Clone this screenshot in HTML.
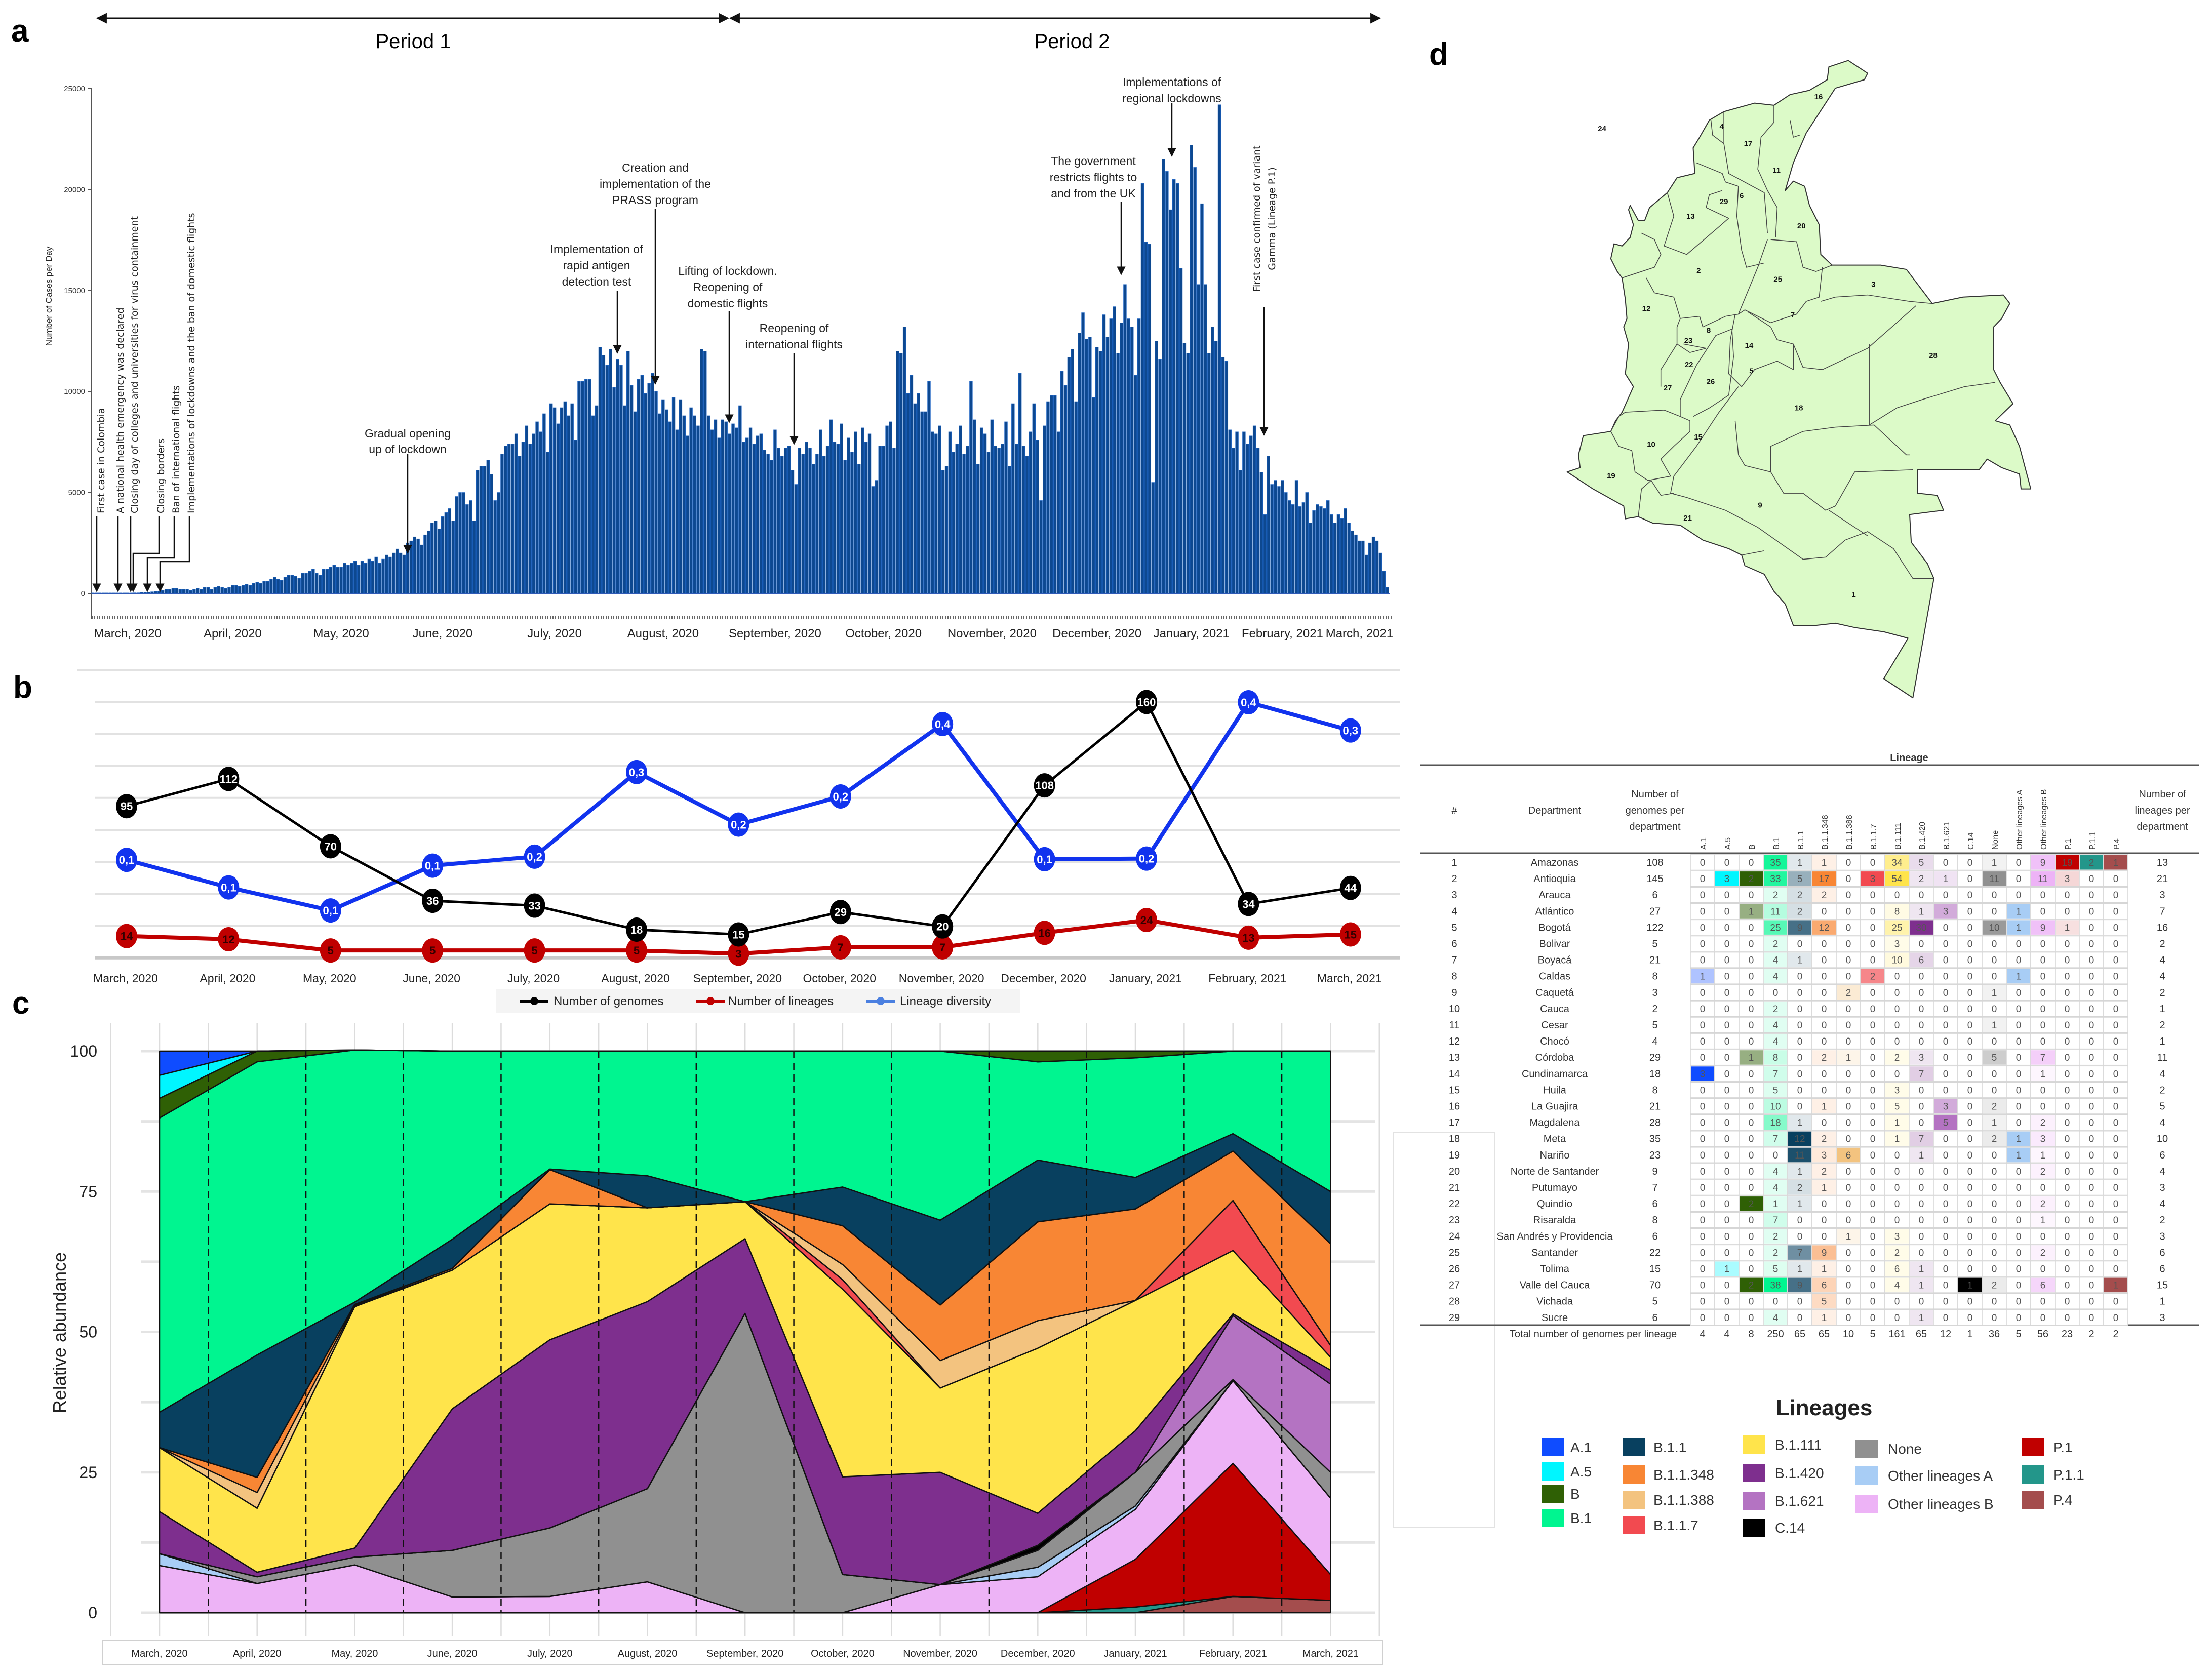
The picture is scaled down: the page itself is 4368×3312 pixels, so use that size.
<!DOCTYPE html>
<html><head><meta charset="utf-8">
<style>
html,body{margin:0;padding:0;background:#fff}
svg{display:block}
text{font-family:"Liberation Sans",sans-serif}
.ann{font-size:23px;fill:#222;text-anchor:middle}
.rot{font-family:"DejaVu Sans",sans-serif;font-size:19px;fill:#222}
</style></head>
<body>
<svg id="fig" width="4368" height="3312" viewBox="0 0 4368 3312" xmlns="http://www.w3.org/2000/svg">
<defs>
<marker id="ah" viewBox="0 0 10 10" refX="9" refY="5" markerWidth="7" markerHeight="7" orient="auto-start-reverse"><path d="M0,0 L10,5 L0,10 z" fill="#111"/></marker>
</defs>
<rect x="0" y="0" width="4368" height="3312" fill="#fff"/>

<!-- Panel letters -->
<text x="22" y="82" font-size="62" font-weight="bold">a</text>
<text x="26" y="1378" font-size="62" font-weight="bold">b</text>
<text x="24" y="2002" font-size="62" font-weight="bold">c</text>
<text x="2822" y="128" font-size="62" font-weight="bold">d</text>

<!-- Period arrows -->
<g>
<line x1="192" y1="36" x2="1438" y2="36" stroke="#111" stroke-width="3" marker-start="url(#ah)" marker-end="url(#ah)"/>
<line x1="1442" y1="36" x2="2725" y2="36" stroke="#111" stroke-width="3" marker-start="url(#ah)" marker-end="url(#ah)"/>
<text x="816" y="95" font-size="40" text-anchor="middle">Period 1</text>
<text x="2117" y="95" font-size="40" text-anchor="middle">Period 2</text>
</g>

<g id="panelA">
<line x1="181" y1="173" x2="181" y2="1222" stroke="#555" stroke-width="2"/>
<line x1="181" y1="1220" x2="2750" y2="1220" stroke="#666" stroke-width="6" stroke-dasharray="2,3"/>
<line x1="181" y1="1172" x2="2745" y2="1172" stroke="#3a55b0" stroke-width="2"/>
<text transform="translate(102,585) rotate(-90)" font-size="17" text-anchor="middle" fill="#222">Number of Cases per Day</text>
</g>

<!-- panel a annotations -->
<g id="annA">
<text class="rot" transform="translate(206,1014) rotate(-90)">First case in Colombia</text>
<text class="rot" transform="translate(244,1014) rotate(-90)">A national health emergency was declared</text>
<text class="rot" transform="translate(272,1014) rotate(-90)">Closing day of colleges and universities for virus containment</text>
<text class="rot" transform="translate(324,1014) rotate(-90)">Closing borders</text>
<text class="rot" transform="translate(354,1014) rotate(-90)">Ban of international flights</text>
<text class="rot" transform="translate(384,1014) rotate(-90)">Implementations of lockdowns and the ban of domestic flights</text>
<g stroke="#111" stroke-width="2.5" fill="none">
<line x1="191" y1="1020" x2="191" y2="1168" marker-end="url(#ah)"/>
<line x1="233" y1="1020" x2="233" y2="1168" marker-end="url(#ah)"/>
<line x1="258" y1="1020" x2="258" y2="1168" marker-end="url(#ah)"/>
<polyline points="314,1020 314,1093 263,1093 263,1168" marker-end="url(#ah)"/>
<polyline points="344,1020 344,1102 291,1102 291,1168" marker-end="url(#ah)"/>
<polyline points="374,1020 374,1109 316,1109 316,1168" marker-end="url(#ah)"/>
<line x1="805" y1="897" x2="805" y2="1092" marker-end="url(#ah)"/>
<line x1="1219" y1="575" x2="1219" y2="697" marker-end="url(#ah)"/>
<line x1="1294" y1="413" x2="1294" y2="758" marker-end="url(#ah)"/>
<line x1="1440" y1="614" x2="1440" y2="834" marker-end="url(#ah)"/>
<line x1="1568" y1="697" x2="1568" y2="877" marker-end="url(#ah)"/>
<line x1="2214" y1="398" x2="2214" y2="542" marker-end="url(#ah)"/>
<line x1="2314" y1="204" x2="2314" y2="308" marker-end="url(#ah)"/>
<line x1="2496" y1="607" x2="2496" y2="859" marker-end="url(#ah)"/>
</g>
<text class="ann" x="805" y="864"><tspan x="805">Gradual opening</tspan><tspan x="805" dy="31">up of lockdown</tspan></text>
<text class="ann" x="1178" y="500"><tspan x="1178">Implementation of</tspan><tspan x="1178" dy="32">rapid antigen</tspan><tspan x="1178" dy="32">detection test</tspan></text>
<text class="ann" x="1294" y="339"><tspan x="1294">Creation and</tspan><tspan x="1294" dy="32">implementation of the</tspan><tspan x="1294" dy="32">PRASS program</tspan></text>
<text class="ann" x="1437" y="543"><tspan x="1437">Lifting of lockdown.</tspan><tspan x="1437" dy="32">Reopening of</tspan><tspan x="1437" dy="32">domestic flights</tspan></text>
<text class="ann" x="1568" y="656"><tspan x="1568">Reopening of</tspan><tspan x="1568" dy="32">international flights</tspan></text>
<text class="ann" x="2159" y="326"><tspan x="2159">The government</tspan><tspan x="2159" dy="32">restricts flights to</tspan><tspan x="2159" dy="32">and from the UK</tspan></text>
<text class="ann" x="2314" y="170"><tspan x="2314">Implementations of</tspan><tspan x="2314" dy="32">regional lockdowns</tspan></text>
<text class="rot" transform="translate(2488,432) rotate(-90)" text-anchor="middle" font-size="21"><tspan x="0">First case confirmed of variant</tspan><tspan x="0" dy="30">Gamma (Lineage P.1)</tspan></text>
</g>

<g id="panelB"></g>
<g id="panelC"></g>
<g id="legendC"></g>
<g id="mapD"></g>
<g id="tableD"></g>
</svg>

<script>
const NS = "http://www.w3.org/2000/svg";
function mk(tag, attrs, parent) {
  const el = document.createElementNS(NS, tag);
  for (const k in attrs) el.setAttribute(k, attrs[k]);
  parent.appendChild(el);
  return el;
}

/* ================= PANEL A: daily cases (thousands) ================= */
const casesDaily = [
0,0,0,0,0,0,0,0,0,0, 0.02,0.02,0.03,0.03,0.05,0.05,0.06,0.08,0.1,0.1,
0.15,0.2,0.2,0.25,0.25,0.2,0.2,0.2,0.15,0.2, 0.25,0.2,0.3,0.3,0.2,0.3,0.35,0.3,0.25,0.3,
0.4,0.4,0.35,0.4,0.45,0.4,0.5,0.55,0.5,0.6,
0.6,0.7,0.8,0.7,0.65,0.8,0.9,0.9,0.85,0.75, 1.0,1.0,1.1,1.2,1.0,0.9,1.2,1.2,1.3,1.4,
1.3,1.3,1.5,1.4,1.5,1.6,1.4,1.6,1.5,1.7, 1.6,1.8,1.5,1.7,1.9,1.8,2.0,2.2,2.0,1.9,
2.5,2.6,2.8,2.7,2.4,2.9,3.1,3.5,3.6,3.2,
3.8,4.0,4.2,3.6,4.8,5.0,5.0,4.4,4.6,3.6,
6.1,6.3,6.3,6.6,5.9,4.6,5.0,6.9,7.3,7.4,
7.4,7.9,6.8,7.5,8.3,7.4,7.9,8.5,8.0,8.9,
7.0,9.4,9.2,8.4,9.2,9.5,8.8,9.4,7.6,10.5,
10.5,10.6,10.6,8.8,9.3,12.2,11.8,11.3,12.1,10.2,
11.6,11.3,9.3,12.0,10.3,9.0,10.6,10.8,9.9,10.4,
10.9,10.0,8.9,9.6,9.1,8.5,9.7,8.1,9.6,8.8,
7.8,9.2,8.8,8.3,12.1,12.0,8.8,8.1,8.6,7.7,
8.6,8.5,7.9,8.4,8.2,9.3,7.5,7.7,8.2,7.4,
7.8,7.9,7.1,6.9,6.6,8.1,7.2,6.8,7.2,7.3,
6.1,5.4,7.2,6.9,7.5,7.2,6.4,6.9,8.1,6.8,
7.3,8.6,7.5,7.4,8.4,6.6,7.7,7.0,8.0,6.4,
8.2,7.5,7.9,5.3,5.6,7.3,7.3,8.3,8.5,7.2,
12.0,11.9,13.2,9.9,10.8,9.4,9.9,9.0,9.0,10.5,
8.0,7.9,8.3,6.1,6.3,8.0,7.0,7.4,8.3,6.9,
7.3,10.5,8.6,6.4,8.2,7.9,7.0,8.6,7.3,7.2,
7.4,8.5,6.3,9.4,7.4,10.9,7.3,6.8,8.0,9.4,
7.6,4.6,8.3,9.5,9.8,9.8,8.0,11.0,10.3,11.7,
12.1,9.5,12.9,13.9,12.6,12.7,9.7,12.2,12.0,13.8,
12.7,13.6,14.2,11.9,13.4,15.3,13.6,13.2,10.8,13.6,
20.3,17.4,17.3,5.5,12.5,11.6,21.5,20.9,19.0,20.5,
20.3,16.1,12.4,11.9,22.2,21.1,15.3,19.3,15.3,11.9,
13.2,12.5,24.2,11.7,11.5,8.1,7.2,8.0,6.1,8.0,
7.4,7.8,8.3,7.2,6.0,3.9,6.8,5.4,5.6,5.3,
5.6,5.0,4.6,4.4,5.6,4.3,4.5,5.0,3.5,4.1,
4.4,4.3,4.2,4.6,3.9,3.5,3.9,3.7,4.2,3.5,
3.1,2.9,2.6,2.6,1.9,2.5,2.8,2.6,2.0,1.1,
0.3
];
const yTicksA = [0, 5000, 10000, 15000, 20000, 25000];
const monthLabelsA = ["March, 2020","April, 2020","May, 2020","June, 2020","July, 2020","August, 2020","September, 2020","October, 2020","November, 2020","December, 2020","January, 2021","February, 2021","March, 2021"];
const monthLabelDayA = [10, 40, 71, 100, 132, 163, 195, 226, 257, 287, 314, 340, 362];

(function(){
  const g = document.getElementById('panelA');
  const xA = d => 183 + d * 6.91;
  const yA = v => 1172 - v * 1000 * (997 / 25000);
  yTicksA.forEach(t => {
    const y = yA(t / 1000);
    const tl = mk('text', {x: 168, y: y + 5, 'font-size': 15, 'text-anchor': 'end', fill: '#333'}, g);
    
    
    tl.textContent = String(t);
    const tk = mk('line', {x1: 174, x2: 181, y1: y, y2: y, stroke: '#555', 'stroke-width': 2}, g);
    
    
  });
  casesDaily.forEach((v, i) => {
    const h = Math.max(1, 1172 - yA(v));
    const b = mk('rect', {x: xA(i) - 2.8, y: 1172 - h, width: 5.6, height: h, fill: '#0d4890', stroke: '#1c62c0', 'stroke-width': 0.8}, g);
    
    
  });
  monthLabelsA.forEach((m, i) => {
    const t = mk('text', {x: xA(monthLabelDayA[i]), y: 1259, 'font-size': 24, 'text-anchor': 'middle', fill: '#222'}, g);
    
    
    t.textContent = m;
  });
})();

/* ================= PANEL B ================= */
const monthsB = ["March, 2020","April, 2020","May, 2020","June, 2020","July, 2020","August, 2020","September, 2020","October, 2020","November, 2020","December, 2020","January, 2021","February, 2021","March, 2021"];
const genomesB = [95, 112, 70, 36, 33, 18, 15, 29, 20, 108, 160, 34, 44];
const lineagesB = [14, 12, 5, 5, 5, 5, 3, 7, 7, 16, 24, 13, 15];
const diversityB = [0.154, 0.111, 0.075, 0.145, 0.159, 0.291, 0.209, 0.253, 0.366, 0.155, 0.156, 0.4, 0.356];
const diversityLabelsB = ["0,1","0,1","0,1","0,1","0,2","0,3","0,2","0,2","0,4","0,1","0,2","0,4","0,3"];

(function(){
  const g = document.getElementById('panelB');
  const xB = i => 250 + i * 201.4;
  const yB = v => 1893 - v * 3.166;
  const yD = v => 1893 - v * 1265;
  for (let k = 0; k < 10; k++) {
    const y = 1323 + k * 63.2;
    const gl = mk('line', {x1: k === 0 ? 152 : 188, x2: 2764, y1: y, y2: y, stroke: k === 9 ? '#c8c8c8' : '#e2e2e2', 'stroke-width': k === 9 ? 6 : 4}, g);
    
    
  }
  function series(vals, yf, color, width, labels, txtColor, name) {
    const pts = vals.map((v, i) => xB(i) + ',' + yf(v)).join(' ');
    const pl = mk('polyline', {points: pts, fill: 'none', stroke: color, 'stroke-width': width, 'stroke-linejoin': 'round'}, g);
    
    
    vals.forEach((v, i) => {
      const c = mk('ellipse', {cx: xB(i), cy: yf(v), rx: 21, ry: 24, fill: color}, g);
      
      
      const t = mk('text', {x: xB(i), y: yf(v) + 8, 'font-size': 22, 'font-weight': 'bold', 'text-anchor': 'middle', fill: txtColor}, g);
      
      
      t.textContent = labels[i];
    });
  }
  series(diversityB, yD, '#1133ee', 8, diversityLabelsB, '#fff', 'lineage-diversity');
  series(lineagesB, yB, '#c00000', 8, lineagesB.map(String), '#300', 'number-of-lineages');
  series(genomesB, yB, '#000', 5, genomesB.map(String), '#fff', 'number-of-genomes');
  monthsB.forEach((m, i) => {
    const t = mk('text', {x: xB(i) - 2, y: 1940, 'font-size': 23, 'text-anchor': 'middle', fill: '#222'}, g);
    
    
    t.textContent = m;
  });
  const lg = mk('rect', {x: 979, y: 1954, width: 1036, height: 46, fill: '#f4f4f4'}, g);
  
  
  const items = [['Number of genomes', '#000', 1027, 1093], ['Number of lineages', '#c00000', 1375, 1438], ['Lineage diversity', '#4a7fe0', 1711, 1777]];
  items.forEach(it => {
    const ln = mk('line', {x1: it[2], x2: it[2] + 56, y1: 1977, y2: 1977, stroke: it[1], 'stroke-width': 6}, g);
    
    
    const dt = mk('circle', {cx: it[2] + 28, cy: 1977, r: 8, fill: it[1]}, g);
    
    
    const tx = mk('text', {x: it[3], y: 1985, 'font-size': 24, fill: '#222'}, g);
    
    
    tx.textContent = it[0];
  });
})();

/* ================= PANEL C: stacked relative abundance ================= */
const monthsC = ["March, 2020","April, 2020","May, 2020","June, 2020","July, 2020","August, 2020","September, 2020","October, 2020","November, 2020","December, 2020","January, 2021","February, 2021","March, 2021"];
const lineageNames = ["P.4","P.1.1","P.1","Other lineages B","Other lineages A","None","C.14","B.1.621","B.1.420","B.1.111","B.1.1.7","B.1.1.388","B.1.1.348","B.1.1","B.1","B","A.5","A.1"];
const abP4      = [0,0,0,0,0,0,0,0,0,0,0,2.9,2.2];
const abP11     = [0,0,0,0,0,0,0,0,0,0,1,0,0];
const abP1      = [0,0,0,0,0,0,0,0,0,0,8.5,23.7,4.6];
const abOtherB  = [8.4,5.2,8.5,2.8,2.9,5.5,0,0,5.0,6.4,8.9,14.7,13.6];
const abOtherA  = [2.1,0,0,0,0,0,0,0,0,1.7,0.6,0,0];
const abNone    = [0,1.2,1.4,8.3,12.2,16.6,53.3,6.8,0,3.0,6,0.2,4.6];
const abC14     = [0,0,0,0,0,0,0,0,0,0.9,0,0,0];
const abB1621   = [0,0,0,0,0,0,0,0,0,0,0,11.4,15.7];
const abB1420   = [7.5,0.8,1.6,25.2,33.5,33.3,13.3,17.4,20,5.7,7.4,0.3,2.5];
const abB1111   = [11.4,11.4,43,24.7,24.2,16.7,6.6,33.4,15,29.4,23.2,11.3,2.3];
const abB117    = [0,0,0,0,0,0,0,1.7,0,0,0,8.9,2.1];
const abB11388  = [0,2.8,0.2,0,0,0,0,2.7,4.9,4.9,0,0,0];
const abB11348  = [0,2.7,0.2,0.3,6.1,0,0,6.9,9.9,17.6,16.3,8.8,18.1];
const abB11     = [6.3,21.8,0.4,5.2,0.1,5.7,0,6.9,15.1,11,5.6,3.1,9.3];
const abB1      = [52.4,52.2,44.9,33.5,21,22.2,26.8,24.2,30.1,17.5,21.3,14.7,25];
const abB       = [3.5,1.9,0,0,0,0,0,0,0,1.9,1.2,0,0];
const abA5      = [4.1,0,0,0,0,0,0,0,0,0,0,0,0];
const abA1      = [4.3,0,0,0,0,0,0,0,0,0,0,0,0];
const yTicksC = [0, 25, 50, 75, 100];
const lineageColors = {"A.1":"#0f4cff","A.5":"#00f6ff","B":"#2f6005","B.1":"#00f590","B.1.1":"#08405f","B.1.1.348":"#f88634","B.1.1.388":"#f3c37f","B.1.1.7":"#f24a50","B.1.111":"#ffe44b","B.1.420":"#7e2f8e","B.1.621":"#b473c2","C.14":"#000000","None":"#909090","Other lineages A":"#a8cdf5","Other lineages B":"#edb3f6","P.1":"#c00000","P.1.1":"#23968a","P.4":"#a44d4d"};

(function(){
  const g = document.getElementById('panelC');
  const layers = [abP4, abP11, abP1, abOtherB, abOtherA, abNone, abC14, abB1621, abB1420, abB1111, abB117, abB11388, abB11348, abB11, abB1, abB, abA5, abA1];
  const xC = i => 315 + i * 192.7;
  const yC = p => 3185 - p * 11.09;
  for (let k = 0; k <= 8; k++) {
    const y = yC(k * 12.5);
    const gl = mk('line', {x1: 279, x2: 2716, y1: y, y2: y, stroke: '#e4e4e4', 'stroke-width': 5}, g);
    
    
  }
  for (let k = -1; k <= 25; k++) {
    const x = xC(k * 0.5);
    const vl = mk('line', {x1: x, x2: x, y1: 2020, y2: 3232, stroke: '#dcdcdc', 'stroke-width': 2.5}, g);
    
    
  }
  let base = monthsC.map(() => 0);
  layers.forEach((arr, li) => {
    const top = base.map((b, i) => b + arr[i]);
    const pts = [];
    top.forEach((v, i) => pts.push(xC(i) + ',' + yC(v)));
    for (let i = base.length - 1; i >= 0; i--) pts.push(xC(i) + ',' + yC(base[i]));
    const p = mk('polygon', {points: pts.join(' '), fill: lineageColors[lineageNames[li]], stroke: '#111', 'stroke-width': 2.5, 'stroke-linejoin': 'round'}, g);
    
    
    base = top;
  });
  for (let i = 0; i < 12; i++) {
    const x = xC(i + 0.5);
    const dl = mk('line', {x1: x, x2: x, y1: yC(100), y2: yC(0), stroke: '#111', 'stroke-width': 2.5, 'stroke-dasharray': '14,9'}, g);
    
    
  }
  yTicksC.forEach(t => {
    const tl = mk('text', {x: 192, y: yC(t) + 11, 'font-size': 32, 'text-anchor': 'end', fill: '#222'}, g);
    
    
    tl.textContent = String(t);
  });
  const yt = mk('text', {transform: 'translate(130,2632) rotate(-90)', 'font-size': 36, 'text-anchor': 'middle', fill: '#222', 'font-family': 'DejaVu Sans, sans-serif'}, g);
  
  
  yt.textContent = 'Relative abundance';
  const bx = mk('rect', {x: 203, y: 3240, width: 2527, height: 48, fill: 'none', stroke: '#d0d0d0', 'stroke-width': 2}, g);
  
  
  monthsC.forEach((m, i) => {
    const t = mk('text', {x: xC(i), y: 3272, 'font-size': 20, 'text-anchor': 'middle', fill: '#222'}, g);
    
    
    t.textContent = m;
  });
  const fb = mk('rect', {x: 2752, y: 2237, width: 200, height: 780, fill: 'none', stroke: '#e2e2e2', 'stroke-width': 2}, g);
  
  
})();

/* ================= Lineage legend ================= */
(function(){
  const g = document.getElementById('legendC');
  const tt = mk('text', {x: 3602, y: 2795, 'font-size': 44, 'font-weight': 'bold', 'text-anchor': 'middle', fill: '#222'}, g);
  
  
  tt.textContent = 'Lineages';
  const cols = [
    [3045, 3101, [["A.1", 2858], ["A.5", 2906], ["B", 2950], ["B.1", 2998]]],
    [3204, 3265, [["B.1.1", 2858], ["B.1.1.348", 2912], ["B.1.1.388", 2962], ["B.1.1.7", 3012]]],
    [3441, 3505, [["B.1.111", 2853], ["B.1.420", 2909], ["B.1.621", 2964], ["C.14", 3017]]],
    [3664, 3728, [["None", 2861], ["Other lineages A", 2914], ["Other lineages B", 2970]]],
    [3992, 4054, [["P.1", 2858], ["P.1.1", 2912], ["P.4", 2962]]]
  ];
  cols.forEach(c => {
    c[2].forEach(it => {
      const r = mk('rect', {x: c[0], y: it[1] - 18, width: 44, height: 36, fill: lineageColors[it[0]]}, g);
      
      
      const t = mk('text', {x: c[1], y: it[1] + 10, 'font-size': 28, fill: '#333'}, g);
      
      
      t.textContent = it[0];
    });
  });
})();

/* ================= Map ================= */
(function(){
  const g = document.getElementById('mapD');
  const X = z => 3050 + 0.638 * z;
  const Y = z => 90 + 0.842 * z;
  const outline = [1000,65,940,35,880,50,875,80,820,105,760,115,710,140,650,135,555,155,510,175,480,215,460,240,465,300,410,310,380,345,325,380,310,410,290,410,265,375,260,385,275,420,265,450,240,470,215,465,205,500,225,530,240,545,250,595,255,640,245,660,260,700,250,770,275,800,240,860,220,880,205,905,120,915,105,960,110,990,70,1000,150,1040,245,1080,250,1110,290,1105,335,1120,420,1125,490,1160,570,1180,610,1195,620,1220,680,1240,710,1280,745,1310,770,1360,840,1360,900,1355,960,1365,1050,1375,1125,1390,1050,1485,1140,1530,1205,1250,1185,1215,1135,1165,1130,1100,1235,1090,1215,1055,1155,1050,1155,995,1345,995,1370,970,1415,990,1470,1005,1475,1040,1505,1040,1470,940,1440,890,1395,880,1450,840,1410,790,1390,760,1390,660,1415,640,1440,605,1420,585,1295,590,1200,605,1120,525,1040,515,890,515,855,490,850,420,820,375,805,330,770,318,745,340,770,275,810,205,900,100,990,80];
  const pts = [];
  for (let i = 0; i < outline.length; i += 2) pts.push(X(outline[i]) + ',' + Y(outline[i + 1]));
  const poly = mk('polygon', {points: pts.join(' '), fill: '#dcfac8', stroke: '#333', 'stroke-width': 2, 'stroke-linejoin': 'round'}, g);
  
  
  const borders = [
    [515,175,520,210,555,230,555,155],
    [555,230,570,300,680,345,690,440],
    [710,140,710,180,670,215,660,290,690,340,720,380,715,450],
    [760,175,770,215,790,210],
    [470,275,550,300,560,320,600,330,595,400,610,480,625,520,680,510],
    [380,345,400,400,370,470,440,490,540,425,570,405,500,380,510,350,550,340],
    [240,545,340,520,360,490,340,455,300,440],
    [315,545,340,580,400,590,420,640,410,660,410,700,360,760,360,800],
    [420,640,480,635,490,660,560,635,600,630,660,520,690,455],
    [600,630,620,620,700,650,780,630,810,600,850,590,860,520],
    [700,455,780,460,800,520,840,530,890,515],
    [855,600,900,590,1000,585,1130,600,1200,605],
    [770,700,800,755,860,760,1000,710,1150,610],
    [590,630,575,690,570,770,610,800,650,760,720,740,770,760,770,700,720,690,700,660,630,625],
    [1005,700,1005,890,1090,850,1170,830,1300,800,1395,790],
    [600,800,540,860,470,940,400,1010,390,1050,440,1060,560,1090,660,1130,800,1205,870,1200,930,1160,1000,1140,1080,1180,1140,1250,1205,1250],
    [590,880,600,960,620,985,700,1000,700,940,800,905,900,895,1020,890,1120,960,1130,960],
    [700,1000,740,1050,800,1050,870,1090,900,1080,960,1000,1140,995],
    [880,1090,1000,1150],
    [290,1105,300,1040,330,1020,360,1055,400,1050],
    [205,905,230,870,250,860,370,855,420,870,450,880,450,905,400,940,360,970,390,1010,320,1020,280,1000,270,950,230,940,205,905],
    [420,870,420,830,470,750,530,680,580,665,585,730,570,820,510,850,460,870],
    [410,700,450,720,500,710,430,700],
    [610,1195,680,1185]
  ];
  borders.forEach(b => {
    const p = [];
    for (let i = 0; i < b.length; i += 2) p.push(X(b[i]) + ',' + Y(b[i + 1]));
    const pl = mk('polyline', {points: p.join(' '), fill: 'none', stroke: '#444', 'stroke-width': 1.5}, g);
    
    
  });
  const labels = [[16,848,120],[4,548,190],[17,630,230],[11,718,293],[6,610,352],[29,555,366],[13,452,400],[20,795,423],[2,477,528],[25,722,548],[3,1018,560],[12,315,617],[7,768,632],[8,508,668],[23,445,692],[14,633,703],[28,1203,727],[22,447,748],[5,640,763],[26,514,788],[27,381,803],[18,787,850],[15,476,918],[10,330,935],[19,206,1009],[9,667,1078],[21,443,1108],[1,957,1288],[24,178,195]];
  labels.forEach(l => {
    const t = mk('text', {x: X(l[1]), y: Y(l[2]) + 5, 'font-size': 15, 'font-weight': 'bold', 'text-anchor': 'middle', fill: '#111'}, g);
    
    
    t.textContent = String(l[0]);
  });
})();

/* ================= Table ================= */
const tableLineages = ["A.1","A.5","B","B.1","B.1.1","B.1.1.348","B.1.1.388","B.1.1.7","B.1.111","B.1.420","B.1.621","C.14","None","Other lineages A","Other lineages B","P.1","P.1.1","P.4"];
const tableDepartments = ["Amazonas","Antioquia","Arauca","Atlántico","Bogotá","Bolivar","Boyacá","Caldas","Caquetá","Cauca","Cesar","Chocó","Córdoba","Cundinamarca","Huila","La Guajira","Magdalena","Meta","Nariño","Norte de Santander","Putumayo","Quindío","Risaralda","San Andrés y Providencia","Santander","Tolima","Valle del Cauca","Vichada","Sucre"];
const tableGenomes = [108,145,6,27,122,5,21,8,3,2,5,4,29,18,8,21,28,35,23,9,7,6,8,6,22,15,70,5,6];
const tableNLineages = [13,21,3,7,16,2,4,4,2,1,2,1,11,4,2,5,4,10,6,4,3,4,2,3,6,6,15,1,3];
const tableCounts = [
[0,0,0,35,1,1,0,0,34,5,0,0,1,0,9,19,2,1],
[0,3,2,33,5,17,0,3,54,2,1,0,11,0,11,3,0,0],
[0,0,0,2,2,2,0,0,0,0,0,0,0,0,0,0,0,0],
[0,0,1,11,2,0,0,0,8,1,3,0,0,1,0,0,0,0],
[0,0,0,25,9,12,0,0,25,30,0,0,10,1,9,1,0,0],
[0,0,0,2,0,0,0,0,3,0,0,0,0,0,0,0,0,0],
[0,0,0,4,1,0,0,0,10,6,0,0,0,0,0,0,0,0],
[1,0,0,4,0,0,0,2,0,0,0,0,0,1,0,0,0,0],
[0,0,0,0,0,0,2,0,0,0,0,0,1,0,0,0,0,0],
[0,0,0,2,0,0,0,0,0,0,0,0,0,0,0,0,0,0],
[0,0,0,4,0,0,0,0,0,0,0,0,1,0,0,0,0,0],
[0,0,0,4,0,0,0,0,0,0,0,0,0,0,0,0,0,0],
[0,0,1,8,0,2,1,0,2,3,0,0,5,0,7,0,0,0],
[3,0,0,7,0,0,0,0,0,7,0,0,0,0,1,0,0,0],
[0,0,0,5,0,0,0,0,3,0,0,0,0,0,0,0,0,0],
[0,0,0,10,0,1,0,0,5,0,3,0,2,0,0,0,0,0],
[0,0,0,18,1,0,0,0,1,0,5,0,1,0,2,0,0,0],
[0,0,0,7,12,2,0,0,1,7,0,0,2,1,3,0,0,0],
[0,0,0,0,11,3,6,0,0,1,0,0,0,1,1,0,0,0],
[0,0,0,4,1,2,0,0,0,0,0,0,0,0,2,0,0,0],
[0,0,0,4,2,1,0,0,0,0,0,0,0,0,0,0,0,0],
[0,0,2,1,1,0,0,0,0,0,0,0,0,0,2,0,0,0],
[0,0,0,7,0,0,0,0,0,0,0,0,0,0,1,0,0,0],
[0,0,0,2,0,0,1,0,3,0,0,0,0,0,0,0,0,0],
[0,0,0,2,7,9,0,0,2,0,0,0,0,0,2,0,0,0],
[0,1,0,5,1,1,0,0,6,1,0,0,0,0,0,0,0,0],
[0,0,2,38,9,6,0,0,4,1,0,1,2,0,6,0,0,1],
[0,0,0,0,0,5,0,0,0,0,0,0,0,0,0,0,0,0],
[0,0,0,4,0,1,0,0,0,1,0,0,0,0,0,0,0,0]
];
const tableTotals = [4,4,8,250,65,65,10,5,161,65,12,1,36,5,56,23,2,2];

(function(){
  const g = document.getElementById('tableD');
  const colX = j => 3362 + j * 48.0;
  const rowY = i => 1703 + i * 32.1;
  const FN = '"Liberation Sans Narrow","Liberation Sans",sans-serif';
  function txt(x, y, s, size, anchor, name, extra) {
    const t = mk('text', Object.assign({x: x, y: y, 'font-size': size, 'text-anchor': anchor, fill: '#333', 'font-family': FN}, extra || {}), g);
    
    
    t.textContent = s;
    return t;
  }
  txt(3770, 1503, 'Lineage', 20, 'middle', 'table-lineage-title', {'font-weight': 'bold'});
  [[1511, 3], [1685, 3], [2617, 3]].forEach(r => {
    const l = mk('line', {x1: 2805, x2: 4342, y1: r[0], y2: r[0], stroke: '#555', 'stroke-width': r[1]}, g);
    
    
  });
  txt(2872, 1607, '#', 20, 'middle', 'table-header-number');
  txt(3070, 1607, 'Department', 20, 'middle', 'table-header-department');
  txt(3268, 1575, 'Number of', 20, 'middle', 'table-header-genomes');
  txt(3268, 1607, 'genomes per', 20, 'middle', 'table-header-genomes');
  txt(3268, 1639, 'department', 20, 'middle', 'table-header-genomes');
  txt(4270, 1575, 'Number of', 20, 'middle', 'table-header-lineages');
  txt(4270, 1607, 'lineages per', 20, 'middle', 'table-header-lineages');
  txt(4270, 1639, 'department', 20, 'middle', 'table-header-lineages');
  tableLineages.forEach((ln, j) => {
    const t = mk('text', {transform: 'translate(' + (colX(j) + 7) + ',1678) rotate(-90)', 'font-size': 16, fill: '#333', 'font-family': 'DejaVu Sans, sans-serif'}, g);
    
    
    t.textContent = ln;
  });
  const colMax = tableLineages.map((_, j) => Math.max.apply(null, tableCounts.map(r => r[j])));
  tableDepartments.forEach((d, i) => {
    const y = rowY(i);
    txt(2872, y + 7, String(i + 1), 20, 'middle', 'table-row-index');
    txt(3070, y + 7, d, 20, 'middle', 'table-department-name');
    txt(3268, y + 7, String(tableGenomes[i]), 20, 'middle', 'table-genomes-count');
    txt(4270, y + 7, String(tableNLineages[i]), 20, 'middle', 'table-lineages-count');
    tableCounts[i].forEach((v, j) => {
      const cell = mk('rect', {x: colX(j) - 24, y: y - 15, width: 48, height: 30.5, fill: '#fff', stroke: '#d6d6d6', 'stroke-width': 1.5}, g);
      
      
      if (v > 0) {
        const a = v / colMax[j];
        const ov = mk('rect', {x: colX(j) - 23, y: y - 14, width: 46, height: 28.5, fill: lineageColors[tableLineages[j]], 'fill-opacity': Math.max(0.12, a)}, g);
        
        
      }
      txt(colX(j), y + 7, String(v), 19, 'middle', 'table-cell-value', {fill: '#555'});
    });
  });
  txt(3146, 2641, 'Total number of genomes per lineage', 20, 'middle', 'table-total-label');
  tableTotals.forEach((v, j) => txt(colX(j), 2641, String(v), 20, 'middle', 'table-total-value'));
})();
</script>
</body></html>
